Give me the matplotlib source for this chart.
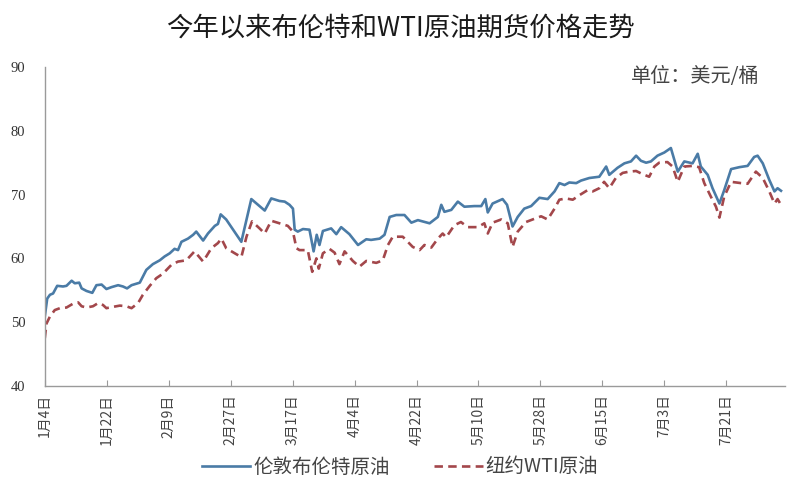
import matplotlib
matplotlib.use("Agg")
import matplotlib.pyplot as plt

plt.rcParams['font.family'] = ['Noto Sans CJK SC', 'DejaVu Sans']

# days counted from Jan 4
brent_days = [0, 0.7, 1.5, 2.4, 3.6, 5.3, 6.3, 7.8, 8.7, 10.0, 10.7, 12.1, 13.8, 15.0, 16.5, 17.9,
              19.4, 21.3, 22.7, 23.9, 25.2, 27.6, 29.5, 31.4, 33.4, 34.8, 36.3, 37.7, 38.7, 39.7,
              41.6, 43.1, 44.0, 46.0, 47.4, 49.4, 50.3, 51.1, 52.7, 57.1, 60.0, 63.9, 65.8, 68.2,
              69.7, 71.1, 72.1, 72.6, 73.5, 75.0, 76.9, 78.1, 79.0, 79.8, 80.8, 83.2, 84.7, 86.1,
              88.5, 91.0, 93.4, 94.8, 97.3, 98.7, 100.2, 102.1, 104.5, 106.5, 108.4, 111.8, 114.2,
              115.2, 116.1, 118.1, 120.0, 121.9, 124.8, 126.8, 128.0, 128.7, 130.1, 133.0, 134.3,
              135.9, 137.4, 139.3, 141.3, 143.7, 146.1, 148.1, 149.5, 151.0, 152.4, 154.4, 155.8,
              158.2, 161.1, 163.1, 164.0, 166.4, 168.4, 170.3, 171.8, 173.2, 174.7, 176.1, 178.0,
              180.0, 181.9, 183.9, 185.8, 188.2, 189.7, 190.6, 192.6, 194.0, 196.0, 197.4, 199.4,
              201.8, 204.2, 206.1, 207.1, 208.6, 210.5, 212.0, 212.9, 213.9]
brent = [50.9, 53.7, 54.3, 54.5, 55.7, 55.6, 55.7, 56.5, 56.1, 56.2, 55.3, 54.9, 54.6, 55.8, 55.9, 55.2,
         55.5, 55.8, 55.6, 55.3, 55.8, 56.2, 58.2, 59.1, 59.7, 60.3, 60.8, 61.5, 61.3, 62.6,
         63.1, 63.7, 64.2, 62.8, 63.9, 65.1, 65.4, 66.9, 66.1, 62.6, 69.3, 67.5, 69.4, 69.0,
         68.9, 68.4, 67.8, 64.5, 64.2, 64.6, 64.5, 61.1, 63.7, 62.1, 64.3, 64.7, 63.8, 64.9,
         63.8, 62.1, 63.0, 62.9, 63.1, 63.7, 66.5, 66.8, 66.8, 65.6, 66.0, 65.5, 66.5,
         68.4, 67.3, 67.6, 68.9, 68.1, 68.2, 68.2, 69.3, 67.2, 68.6, 69.3, 68.4,
         65.0, 66.5, 67.8, 68.2, 69.5, 69.3, 70.5, 71.8, 71.5, 71.9, 71.8, 72.2,
         72.6, 72.8, 74.4, 73.1, 74.2, 74.9, 75.2, 76.1, 75.3, 75.0, 75.2, 76.1,
         76.6, 77.3, 73.6, 75.2, 74.9, 76.4, 74.4, 73.1, 71.0, 68.6, 70.7, 74.0,
         74.3, 74.5, 75.9, 76.1, 74.9, 72.3, 70.5, 71.0, 70.6]

wti_days = [0, 0.5, 1.5, 2.9, 4.4, 6.3, 8.2, 9.7, 10.7, 12.1, 14.0, 15.5, 16.9, 17.9, 19.8, 21.8,
            23.7, 25.2, 27.1, 28.5, 30.5, 32.4, 34.3, 36.8, 38.7, 41.1, 43.5, 46.0, 48.4, 50.3,
            51.3, 52.7, 55.2, 57.1, 58.6, 60.2, 62.4, 63.9, 65.8, 68.2, 70.6, 72.1, 73.1, 74.0,
            76.4, 77.7, 78.9, 79.6, 80.8, 82.7, 84.2, 85.6, 87.1, 89.5, 91.4, 93.4, 96.3, 98.2,
            99.7, 101.1, 104.0, 106.9, 108.9, 110.3, 112.3, 114.2, 115.6, 116.6, 119.0, 120.9,
            122.9, 125.8, 127.7, 128.7, 130.1, 132.6, 134.5, 135.9, 137.4, 139.8, 142.2, 144.2,
            146.1, 148.1, 149.5, 151.4, 153.4, 155.3, 157.7, 159.2, 161.1, 162.5, 164.0, 165.9,
            167.9, 169.8, 171.8, 173.7, 175.6, 177.1, 178.5, 180.9, 182.4, 183.9, 185.8, 188.2,
            190.1, 191.6, 193.5, 195.0, 196.0, 197.4, 199.4, 202.3, 204.2, 206.6, 208.6, 210.5,
            212.0, 212.9, 213.9]
wti = [47.5, 49.8, 50.9, 51.9, 52.2, 52.3, 52.9, 53.1, 52.5, 52.3, 52.5, 53.0, 52.7, 52.2, 52.4, 52.6,
       52.5, 52.2, 53.0, 54.3, 55.7, 56.9, 57.6, 59.0, 59.5, 59.7, 61.1, 59.5, 61.6, 62.4,
       63.1, 61.6, 60.8, 60.2, 63.4, 65.8, 64.7, 63.9, 65.9, 65.5, 65.1, 64.2, 61.6, 61.3,
       61.3, 57.9, 60.0, 58.4, 60.8, 61.5, 60.9, 59.1, 61.1, 59.6, 58.7, 59.6, 59.3, 59.7,
       62.1, 63.4, 63.4, 61.8, 61.3, 62.1, 61.7, 63.1, 63.9, 63.3, 65.2, 65.7,
       64.9, 64.9, 65.5, 63.9, 65.6, 66.1, 65.5, 61.8, 64.2, 65.7, 66.2, 66.6,
       66.1, 67.8, 69.2, 69.4, 69.2, 69.9, 70.7, 70.5, 71.0, 72.0, 71.0, 72.6,
       73.4, 73.6, 73.7, 73.2, 72.8, 74.4, 75.0, 75.1, 74.4, 72.0, 74.4, 74.5,
       74.3, 71.8, 69.7, 68.1, 66.4, 69.7, 72.0, 71.8, 71.7, 73.6, 72.6, 70.5,
       68.6, 69.3, 68.4]

tick_days = [0, 18, 36, 54, 72, 90, 108, 126, 144, 162, 180, 198]
tick_labels = ['1月4日', '1月22日', '2月9日', '2月27日', '3月17日', '4月4日',
               '4月22日', '5月10日', '5月28日', '6月15日', '7月3日', '7月21日']

fig = plt.figure(figsize=(8, 5), dpi=100)
ax = fig.add_axes([0.056, 0.228, 0.925, 0.638])

ax.plot(brent_days, brent, color='#4a7ba6', lw=1.9, label='伦敦布伦特原油')
ax.plot(wti_days, wti, color='#a3474b', lw=1.9, dashes=(3.2, 2), label='纽约WTI原油')

ax.set_xlim(0, 215)
ax.set_ylim(40, 90)
ax.set_yticks([40, 50, 60, 70, 80, 90])
ax.set_yticklabels(['40', '50', '60', '70', '80', '90'], family='Liberation Serif', fontsize=10.5, color='#333333')
ax.set_xticks(tick_days)
ax.set_xticklabels(tick_labels, rotation=90, fontsize=10, color='#444444')

for s in ['top', 'right']:
    ax.spines[s].set_visible(False)
for s in ['left', 'bottom']:
    ax.spines[s].set_color('#9a9a9a')
    ax.spines[s].set_linewidth(1.0)
ax.tick_params(axis='y', length=0, pad=14)
ax.tick_params(axis='x', direction='in', length=4, color='#9a9a9a', pad=6)

fig.text(0.5, 0.944, '今年以来布伦特和WTI原油期货价格走势', ha='center', va='center',
         fontsize=19, color='#1a1a1a', family=['Noto Sans CJK SC', 'DejaVu Sans'])
ax.text(0.966, 0.969, '单位：美元/桶', transform=ax.transAxes, ha='right', va='center',
        fontsize=14.5, color='#444444')

fig.legend(loc='center', bbox_to_anchor=(0.5, 0.066), ncol=2, frameon=False,
           fontsize=14, handlelength=2.5, columnspacing=2.3, handletextpad=0.15,
           labelcolor='#444444')

fig.savefig('out.png', dpi=100)
